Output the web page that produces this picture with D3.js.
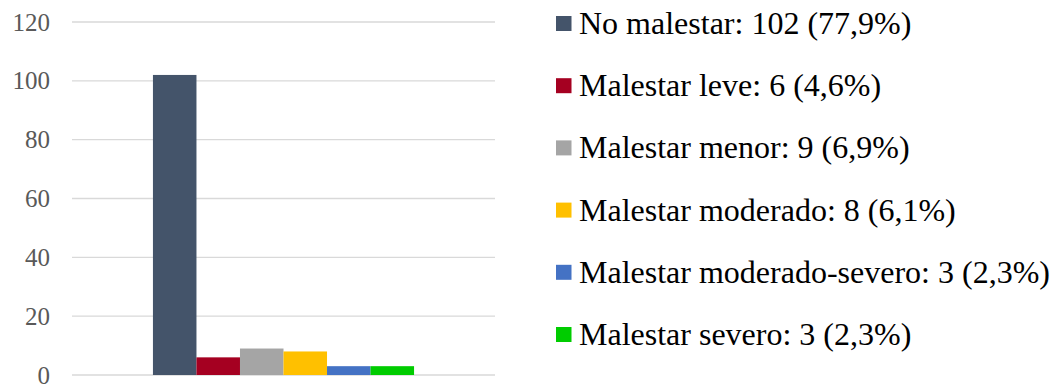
<!DOCTYPE html>
<html>
<head>
<meta charset="utf-8">
<script src="https://cdn.jsdelivr.net/npm/d3@7"></script>
<style>
  html, body { margin: 0; padding: 0; background: #fff; }
  svg { display: block; }
</style>
</head>
<body>
<svg id="chart" width="1053" height="385"></svg>
<script>
// Distress levels reported by respondents
const categories = ["No malestar", "Malestar leve", "Malestar menor", "Malestar moderado", "Malestar moderado-severo", "Malestar severo"];
const counts = [102, 6, 9, 8, 3, 3];
const colors = ["#44546A", "#A50021", "#A5A5A5", "#FFC000", "#4472C4", "#00CC00"];
const yTicks = [0, 20, 40, 60, 80, 100, 120];

const serif = "'Liberation Serif', 'Times New Roman', serif";
const svg = d3.select("#chart");
const x0 = 72, x1 = 495;
const yTop = 22, yBottom = 375;

const y = d3.scaleLinear().domain([0, 120]).range([yBottom, yTop]);

// a single group holding one bar per level
const outer = d3.scaleBand().domain(["g"]).range([x0, x1]).paddingInner(0).paddingOuter(0.31);
const inner = d3.scaleBand().domain(categories).range([0, outer.bandwidth()]).padding(0);

// horizontal gridlines
svg.append("g")
  .selectAll("line")
  .data(yTicks)
  .join("line")
  .attr("x1", x0).attr("x2", x1)
  .attr("y1", d => y(d)).attr("y2", d => y(d))
  .attr("stroke", "#d9d9d9")
  .attr("stroke-width", 1.4);

// y axis labels
const yAxis = d3.axisLeft(y).tickValues(yTicks).tickSize(0).tickPadding(0);
const ag = svg.append("g")
  .attr("transform", "translate(50,0)")
  .call(yAxis);
ag.select(".domain").remove();
ag.selectAll("text")
  .attr("dy", "0.32em")
  .style("font-family", serif)
  .style("font-size", "25px")
  .attr("fill", "#595959");

// bars
svg.append("g")
  .selectAll("rect")
  .data(categories.map((c, i) => ({ c, v: counts[i], color: colors[i] })))
  .join("rect")
  .attr("x", d => outer("g") + inner(d.c))
  .attr("width", inner.bandwidth())
  .attr("y", d => y(d.v))
  .attr("height", d => y(0) - y(d.v))
  .attr("fill", d => d.color);

// legend
const total = d3.sum(counts);
const pct = v => (v / total * 100).toFixed(1).replace(".", ",");
const rowY = d3.scalePoint().domain(categories).range([34, 345]);
const items = svg.append("g").selectAll("g")
  .data(categories.map((c, i) => ({ c, v: counts[i], color: colors[i] })))
  .join("g")
  .attr("transform", d => `translate(556,${rowY(d.c)})`);
items.append("rect")
  .attr("x", 0).attr("y", -18)
  .attr("width", 15.5).attr("height", 15)
  .attr("fill", d => d.color);
items.append("text")
  .attr("x", 23).attr("y", 0)
  .style("font-family", serif)
  .style("font-size", "32px")
  .attr("fill", "#000")
  .text(d => `${d.c}: ${d.v} (${pct(d.v)}%)`);
</script>
</body>
</html>
